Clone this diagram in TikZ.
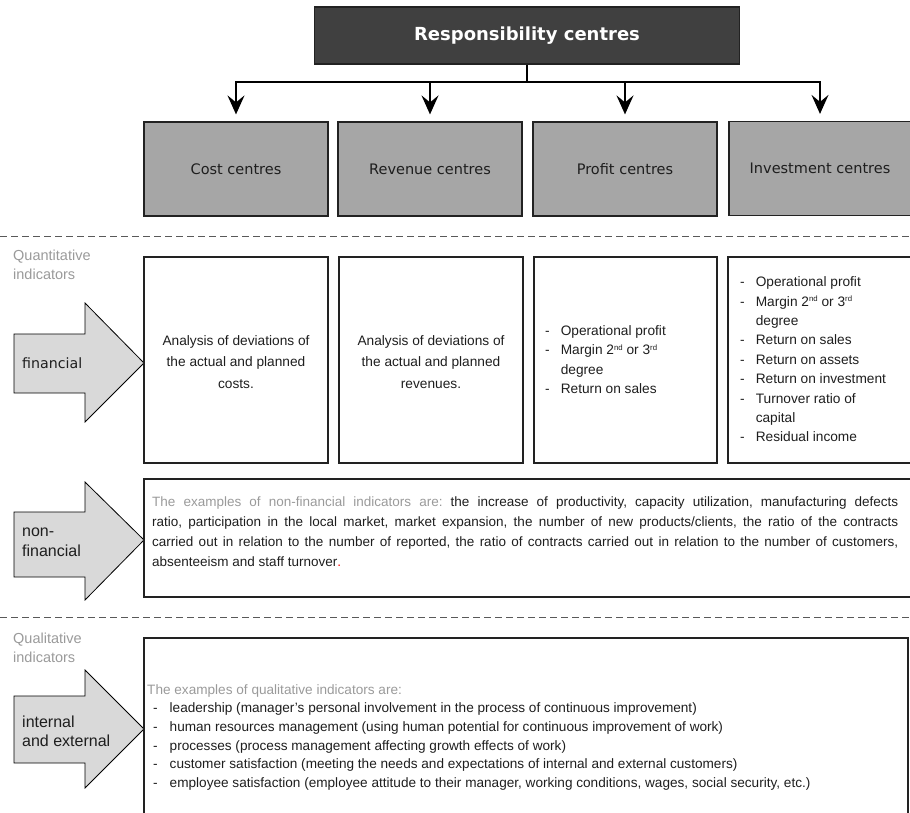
\documentclass[tikz,border=0pt]{standalone}
\usepackage{fontspec}
\setmainfont{Liberation Sans}
\newfontfamily\dvs{DejaVu Sans}
\usetikzlibrary{arrows.meta,calc}
\definecolor{topfill}{HTML}{404040}
\definecolor{boxgray}{HTML}{A6A6A6}
\definecolor{arrowfill}{HTML}{D9D9D9}
\definecolor{lighttext}{HTML}{9A9A9A}
\definecolor{edge}{HTML}{222222}
\definecolor{bodyink}{HTML}{1E1E1E}
\newcommand{\supr}[1]{\raisebox{4.6pt}{\fontsize{7.8}{8}\selectfont #1}}
\frenchspacing
\begin{document}
\begin{tikzpicture}[x=1pt,y=-1pt,
  topbox/.style={draw=edge, line width=1.2pt, fill=topfill, text=white,
    font=\dvs\bfseries\fontsize{18}{22}\selectfont,
    minimum width=425pt, minimum height=57pt, inner sep=0pt},
  centrebox/.style={draw=edge, line width=1.2pt, fill=boxgray, text=bodyink,
    font=\dvs\fontsize{14.5}{17}\selectfont,
    minimum width=184pt, minimum height=94pt, inner sep=0pt},
  detailbox/.style={draw=edge, line width=1.2pt, minimum width=184pt,
    minimum height=206pt, inner sep=0pt},
  widebox/.style={draw=edge, line width=1.2pt, inner sep=0pt},
  conn/.style={line width=2pt, draw=black},
  arr/.style={conn, -{Stealth[length=19pt,width=17pt,inset=7pt]}, shorten >=7pt},
  fatarrow/.style={draw=black, line width=0.8pt, fill=arrowfill},
  sep/.style={draw=black!65, line width=1pt, dash pattern=on 7pt off 4pt},
  sidelabel/.style={text=lighttext, font=\fontsize{14.5}{19}\selectfont,
    align=left, anchor=west, inner sep=0pt},
  arrowlabel/.style={text=bodyink, align=left, anchor=west, inner sep=0pt},
  bodytext/.style={text=bodyink, font=\fontsize{13.7}{21.5}\selectfont,
    align=center, inner sep=0pt},
  listtext/.style={text=bodyink, font=\fontsize{13.7}{19.4}\selectfont,
    anchor=west, inner sep=0pt}
]
\useasboundingbox (0,0) rectangle (910,812);

% top hierarchy
\node[topbox] (top) at (527,35.5) {Responsibility centres};
\node[centrebox] (cost) at (236,169) {Cost centres};
\node[centrebox] (rev) at (430,169) {Revenue centres};
\node[centrebox] (prof) at (625,169) {Profit centres};
\node[centrebox, minimum width=182pt] (inv) at (820,168.5) {Investment centres};

\coordinate (hub) at (top.south |- 0,82);
\coordinate (j1) at (cost.north |- 0,82);
\coordinate (j2) at (rev.north |- 0,82);
\coordinate (j3) at (prof.north |- 0,82);
\coordinate (j4) at (inv.north |- 0,82);
\draw[conn] (top.south) -- (hub);
\draw[conn, line cap=rect] (j1) -- (j4);
\draw[arr] (j1) -- (cost.north);
\draw[arr] (j2) -- (rev.north);
\draw[arr] (j3) -- (prof.north);
\draw[arr] (j4) -- (inv.north);

% separators
\coordinate (s1a) at (0,236);
\coordinate (s1b) at (910,236);
\coordinate (s2a) at (0,617);
\coordinate (s2b) at (910,617);
\draw[sep] (s1a) -- (s1b);
\draw[sep] (s2a) -- (s2b);

% side labels
\node[sidelabel] (quant) at (13,265) {Quantitative\\indicators};
\node[sidelabel] (qual) at (13,647.5) {Qualitative\\indicators};

% fat arrows
\draw[fatarrow] (14,334) -- (85,334) -- (85,303) -- (144,363) -- (85,422) -- (85,393) -- (14,393) -- cycle;
\draw[fatarrow] (14,512) -- (85,512) -- (85,482) -- (144,540) -- (85,600) -- (85,577) -- (14,577) -- cycle;
\draw[fatarrow] (14,696) -- (85,696) -- (85,670) -- (144,729) -- (85,788) -- (85,763) -- (14,763) -- cycle;
\node[arrowlabel, font=\dvs\fontsize{14.2}{18}\selectfont] (lfin) at (22,363) {financial};
\node[arrowlabel, font=\fontsize{16}{20}\selectfont] (lnon) at (22,542.5) {non-\\financial};
\node[arrowlabel, font=\fontsize{16}{18.5}\selectfont] (lint) at (22,731.5) {internal\\and external};

% financial detail boxes
\node[detailbox] (d1) at (236,360) {};
\node[detailbox] (d2) at (431,360) {};
\node[detailbox, minimum width=183pt] (d3) at (625.5,360) {};
\node[detailbox, minimum width=183pt] (d4) at (819.5,360) {};

\node[bodytext] (t1) at (236,362) {Analysis of deviations of\\the actual and planned\\costs.};
\node[bodytext] (t2) at (431,362) {Analysis of deviations of\\the actual and planned\\revenues.};

\node[listtext] (t3) at (545,360.5) {%
\begin{tabular}{@{}l@{\hspace{11pt}}l@{}}
- & Operational profit\\
- & Margin 2\supr{nd} or 3\supr{rd}\\
  & degree\\
- & Return on sales
\end{tabular}};

\node[listtext] (t4) at (740,360.5) {%
\begin{tabular}{@{}l@{\hspace{11pt}}l@{}}
- & Operational profit\\
- & Margin 2\supr{nd} or 3\supr{rd}\\
  & degree\\
- & Return on sales\\
- & Return on assets\\
- & Return on investment\\
- & Turnover ratio of\\
  & capital\\
- & Residual income
\end{tabular}};

% non-financial box
\node[widebox, minimum width=767pt, minimum height=118pt] (nfbox) at (527.5,538) {};
\node[text=bodyink, font=\fontsize{13.5}{20}\selectfont, text width=746pt,
  align=justify, inner sep=0pt, anchor=north west] (nftext) at (152,496.5)
{{\color{lighttext}The examples of non-financial indicators are:} the increase of productivity, capacity utilization, manufacturing defects\linebreak
ratio, participation in the local market, market expansion, the number of new products/clients, the ratio of the contracts\linebreak
carried out in relation to the number of reported, the ratio of contracts carried out in relation to the number of customers,\linebreak
absenteeism and staff turnover{\color{red}.}};

% qualitative box
\node[widebox, minimum width=764pt, minimum height=202pt] (qbox) at (526,739) {};
\node[text=bodyink, font=\fontsize{13.6}{18.6}\selectfont, inner sep=0pt, anchor=west] (qtext) at (147,737) {%
\begin{tabular}{@{\hspace{6pt}}l@{\hspace{12pt}}l@{}}
\multicolumn{2}{@{}l@{}}{\color{lighttext}The examples of qualitative indicators are:}\\
- & leadership (manager's personal involvement in the process of continuous improvement)\\
- & human resources management (using human potential for continuous improvement of work)\\
- & processes (process management affecting growth effects of work)\\
- & customer satisfaction (meeting the needs and expectations of internal and external customers)\\
- & employee satisfaction (employee attitude to their manager, working conditions, wages, social security, etc.)
\end{tabular}};
\end{tikzpicture}
\end{document}
